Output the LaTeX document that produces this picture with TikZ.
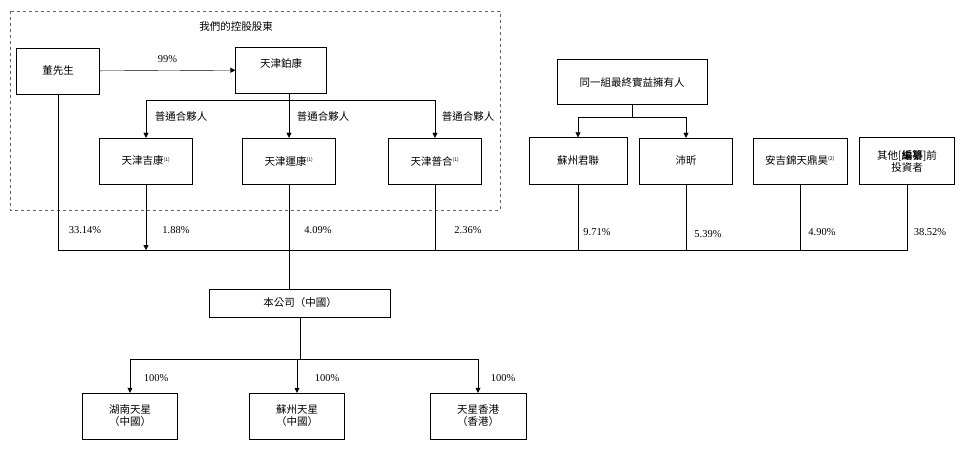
\documentclass[tikz,border=0pt]{standalone}
\usepackage{fontspec}
\setmainfont{Liberation Serif}
\newfontfamily\cjk{Noto Sans CJK TC}
\usetikzlibrary{arrows.meta}
\begin{document}
\begin{tikzpicture}[
    x=1pt, y=-1pt,
    font=\cjk\fontsize{10.5}{12}\selectfont,
    box/.style={rectangle, draw, thin, inner sep=0pt, align=center},
    small/.style={box, minimum width=93pt, minimum height=46pt},
    pct/.style={font=\fontsize{10.5}{12}\selectfont},
    label/.style={inner sep=0pt},
    arrow/.style={-{Triangle[length=5pt,width=5pt]}}
]
\useasboundingbox (0,0) rectangle (960,449);

% Controlling shareholders
\draw[dashed, black!60, thick] (10,11) rectangle (500,210);
\node[label] (title) at (236,27) {我們的控股股東};
\node[box, minimum width=83pt, minimum height=46pt] (dong) at (58,71) {董先生};
\node[box, minimum width=91pt, minimum height=46pt, text depth=14pt] (bokang) at (281,70) {天津鉑康};
\node[small] (jikang) at (146,161) {天津吉康\textsuperscript{\tiny(1)}};
\node[small] (yunkang) at (289,161) {天津運康\textsuperscript{\tiny(1)}};
\node[small] (puhe) at (435,161) {天津普合\textsuperscript{\tiny(1)}};

% Other investors
\node[box, minimum width=150pt, minimum height=45pt] (group) at (632,82) {同一組最終實益擁有人};
\node[box, minimum width=98pt, minimum height=47pt] (junlian) at (578,161) {蘇州君聯};
\node[small] (peixin) at (686,161) {沛昕};
\node[box, minimum width=94pt, minimum height=46pt] (anji) at (800,161) {安吉錦天鼎昊\textsuperscript{\tiny(2)}};
\node[box, minimum width=95pt, minimum height=47pt] (others) at (907,161) {其他[\textbf{編纂}]前\\投資者};

% Company and subsidiaries
\node[box, minimum width=181pt, minimum height=28pt] (company) at (300,303) {本公司（中國）};
\node[small, minimum width=95pt] (hunan) at (130,416) {湖南天星\\（中國）};
\node[small, minimum width=95pt] (suzhou) at (297,416) {蘇州天星\\（中國）};
\node[small, minimum width=96pt] (hk) at (478,416) {天星香港\\（香港）};

\coordinate (bus) at (0,250);
\coordinate (ub) at (0,117);
\coordinate (sub) at (0,359);

% Connections
\draw[arrow] (dong) -- node[label, above=8pt, pct] (p99) {99\%} (bokang);
\draw (289,93) -- (289,100);
\draw[arrow] (289,100) -| (jikang);
\draw[arrow] (289,100) -- (yunkang);
\draw[arrow] (289,100) -| (puhe);
\node[label] (gp1) at (181,117) {普通合夥人};
\node[label] (gp2) at (323,117) {普通合夥人};
\node[label] (gp3) at (468,117) {普通合夥人};

\draw (group) -- (group |- ub);
\draw[arrow] (group |- ub) -| (junlian);
\draw[arrow] (group |- ub) -| (peixin);

\draw (dong) |- (others.south |- bus) -- (others);
\draw[arrow] (jikang) -- (jikang |- bus);
\draw (yunkang) -- (yunkang |- company.north);
\draw (puhe) -- (puhe |- bus);
\draw (junlian) -- (junlian |- bus);
\draw (peixin) -- (peixin |- bus);
\draw (anji) -- (anji |- bus);

\node[label, pct] (s1) at (85,230) {33.14\%};
\node[label, pct] (s2) at (176,230) {1.88\%};
\node[label, pct] (s3) at (318,230) {4.09\%};
\node[label, pct] (s4) at (468,230) {2.36\%};
\node[label, pct] (s5) at (597,232) {9.71\%};
\node[label, pct] (s6) at (708,234) {5.39\%};
\node[label, pct] (s7) at (822,232) {4.90\%};
\node[label, pct] (s8) at (930,232) {38.52\%};

\draw (company) -- (company |- sub);
\draw[arrow] (company |- sub) -| (hunan);
\draw[arrow] (company |- sub) -| (suzhou);
\draw[arrow] (company |- sub) -| (hk);
\node[label, pct] (h1) at (156,378) {100\%};
\node[label, pct] (h2) at (327,378) {100\%};
\node[label, pct] (h3) at (503,378) {100\%};

\end{tikzpicture}
\end{document}
